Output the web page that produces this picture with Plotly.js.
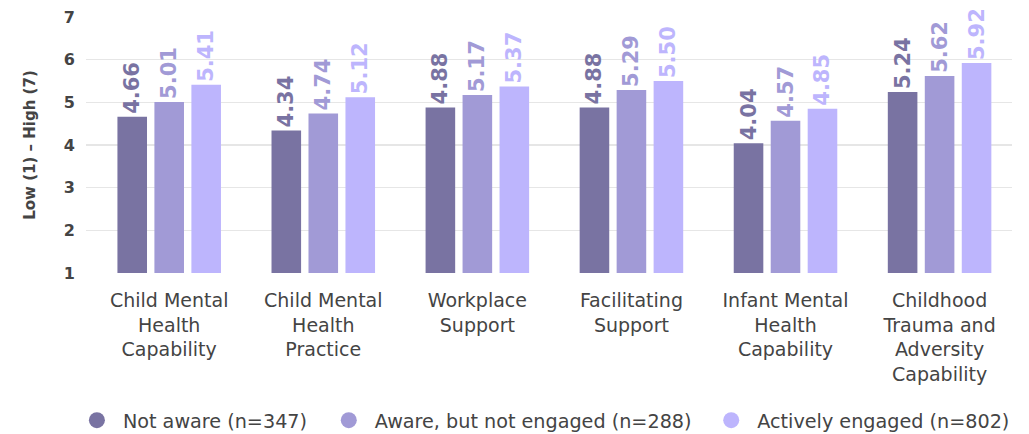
<!DOCTYPE html>
<html>
<head>
<meta charset="utf-8">
<script src="https://cdn.plot.ly/plotly-3.0.1.min.js"></script>
<style>html,body{margin:0;padding:0;background:#fff;}#chart{width:1029px;height:434px;}</style>
</head>
<body>
<div id="chart"></div>
<script>
const categories = [
  "Child Mental<br>Health<br>Capability",
  "Child Mental<br>Health<br>Practice",
  "Workplace<br>Support",
  "Facilitating<br>Support",
  "Infant Mental<br>Health<br>Capability",
  "Childhood<br>Trauma and<br>Adversity<br>Capability"
];
const seriesNames = ["Not aware (n=347)", "Aware, but not engaged (n=288)", "Actively engaged (n=802)"];
const notAware = [4.66, 4.34, 4.88, 4.88, 4.04, 5.24];
const awareNotEngaged = [5.01, 4.74, 5.17, 5.29, 4.57, 5.62];
const activelyEngaged = [5.41, 5.12, 5.37, 5.50, 4.85, 5.92];
const yTicks = [1, 2, 3, 4, 5, 6, 7];
const colors = ["#7973a2", "#a19ad6", "#bdb5fd"];

const FONT = "'DejaVu Sans', sans-serif";
const seriesVals = [notAware, awareNotEngaged, activelyEngaged];
const xIdx = categories.map((c, i) => i);
const legendIds = ["legend", "legend2", "legend3"];
const legendX = [-0.0163, 0.2557, 0.6687];

const traces = [];
seriesVals.forEach((vals, k) => {
  traces.push({
    type: "bar",
    x: xIdx,
    y: vals,
    name: seriesNames[k],
    marker: {color: colors[k]},
    text: vals.map(v => v.toFixed(2)),
    textposition: "outside",
    textangle: -90,
    constraintext: "none",
    cliponaxis: false,
    textfont: {family: FONT, size: 21, color: colors[k], weight: 700},
    showlegend: false,
    hoverinfo: "none"
  });
});
seriesVals.forEach((vals, k) => {
  traces.push({
    type: "scatter",
    mode: "markers",
    x: [null],
    y: [null],
    name: seriesNames[k],
    legend: legendIds[k],
    marker: {color: colors[k], size: 18, symbol: "circle"},
    showlegend: true,
    hoverinfo: "none"
  });
});

function legendCfg(x) {
  return {
    orientation: "h",
    x: x,
    xanchor: "left",
    y: -0.575,
    yanchor: "middle",
    bgcolor: "rgba(0,0,0,0)",
    font: {family: FONT, size: 19.2, color: "#444444"},
    itemwidth: 42
  };
}

const layout = {
  width: 1029,
  height: 434,
  margin: {l: 86, r: 17, t: 17, b: 161, autoexpand: false},
  paper_bgcolor: "#ffffff",
  plot_bgcolor: "#ffffff",
  barmode: "group",
  bargap: 0.28,
  bargroupgap: 0.2,
  font: {family: FONT, color: "#444444"},
  xaxis: {
    tickmode: "array",
    tickvals: xIdx,
    ticktext: categories,
    range: [-0.54, 5.47],
    showgrid: false,
    zeroline: false,
    showline: false,
    ticks: "",
    automargin: false,
    ticklabelstandoff: 14,
    tickfont: {family: FONT, size: 19, color: "#444444"},
    fixedrange: true
  },
  yaxis: {
    range: [1, 7],
    tickmode: "array",
    tickvals: yTicks,
    showgrid: true,
    gridcolor: "#e6e6e6",
    gridwidth: 1.5,
    zeroline: false,
    showline: false,
    ticks: "",
    automargin: false,
    ticklabelstandoff: 10,
    tickfont: {family: FONT, size: 16, color: "#444444", weight: 700},
    title: {text: "Low (1) – High (7)", font: {family: FONT, size: 15, color: "#444444", weight: 700}, standoff: 24},
    fixedrange: true
  },
  legend: legendCfg(legendX[0]),
  legend2: legendCfg(legendX[1]),
  legend3: legendCfg(legendX[2]),
  showlegend: true
};

Plotly.newPlot("chart", traces, layout, {displayModeBar: false, staticPlot: true});
</script>
</body>
</html>
